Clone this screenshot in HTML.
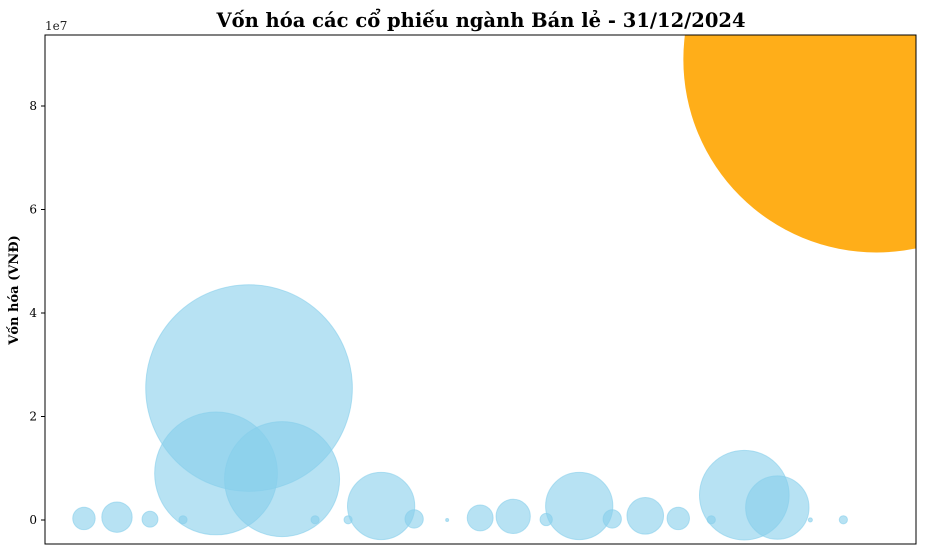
<!DOCTYPE html>
<html><head><meta charset="utf-8"><style>
body{margin:0;background:#fff;}
svg{display:block;font-family:"DejaVu Serif","Liberation Serif",serif;}
</style></head><body>
<svg id="chart" width="945" height="555">
<defs><clipPath id="clip"><rect x="45" y="35" width="871" height="509"/></clipPath></defs>
<text x="481" y="27" text-anchor="middle" font-size="19.5" font-weight="bold">Vốn hóa các cổ phiếu ngành Bán lẻ - 31/12/2024</text>
<text x="45" y="30" font-size="12" fill="#222">1e7</text>
<text transform="translate(18,290) rotate(-90)" text-anchor="middle" font-size="13" font-weight="bold">Vốn hóa (VNĐ)</text>
<g id="bubbles" clip-path="url(#clip)"></g>
<g id="yticks"></g>
<rect x="45" y="35" width="871" height="509" fill="none" stroke="#000" stroke-width="1"/>
</svg>
<script>
const categories = Array.from({length:25},(_,i)=>'CP'+(i+1));
const values = [0.03,0.055,0.015,0.004,0.9,2.55,0.79,0.004,0.004,0.27,0.02,0.0005,0.04,0.07,0.009,0.27,0.02,0.08,0.03,0.004,0.48,0.24,0.001,0.004,8.9];
const highlight = [0,0,0,0,0,0,0,0,0,0,0,0,0,0,0,0,0,0,0,0,0,0,0,0,1];
const yTicks = [0,2,4,6,8];
const X0=45,X1=916,Y0=35,Y1=544;
const xMin=-1.18,xMax=25.2,yMin=-0.464,yMax=9.372;
const xs=i=>X0+(i-xMin)/(xMax-xMin)*(X1-X0);
const ys=v=>Y1-(v-yMin)/(yMax-yMin)*(Y1-Y0);
const rs=v=>64.7*Math.sqrt(v);
const NS='http://www.w3.org/2000/svg';
const g=document.getElementById('bubbles');
categories.forEach((c,i)=>{
  const el=document.createElementNS(NS,'circle');
  el.setAttribute('cx',xs(i));el.setAttribute('cy',ys(values[i]));
  el.setAttribute('r',Math.max(rs(values[i]),1.5));
  if(highlight[i]){el.setAttribute('fill','#FFA500');el.setAttribute('fill-opacity','0.9');}
  else{el.setAttribute('fill','#87CEEB');el.setAttribute('fill-opacity','0.6');el.setAttribute('stroke','#87CEEB');el.setAttribute('stroke-opacity','0.6');}
  
  
  g.appendChild(el);
});
const t=document.getElementById('yticks');
yTicks.forEach(v=>{
  const y=ys(v);
  const l=document.createElementNS(NS,'line');
  l.setAttribute('x1',X0-4);l.setAttribute('x2',X0);l.setAttribute('y1',y);l.setAttribute('y2',y);l.setAttribute('stroke','#000');
  
  
  t.appendChild(l);
  const tx=document.createElementNS(NS,'text');
  tx.setAttribute('x',X0-8);tx.setAttribute('y',y+4);tx.setAttribute('text-anchor','end');tx.setAttribute('font-size','12');
  tx.textContent=v;
  
  
  t.appendChild(tx);
});
</script>
</body></html>
